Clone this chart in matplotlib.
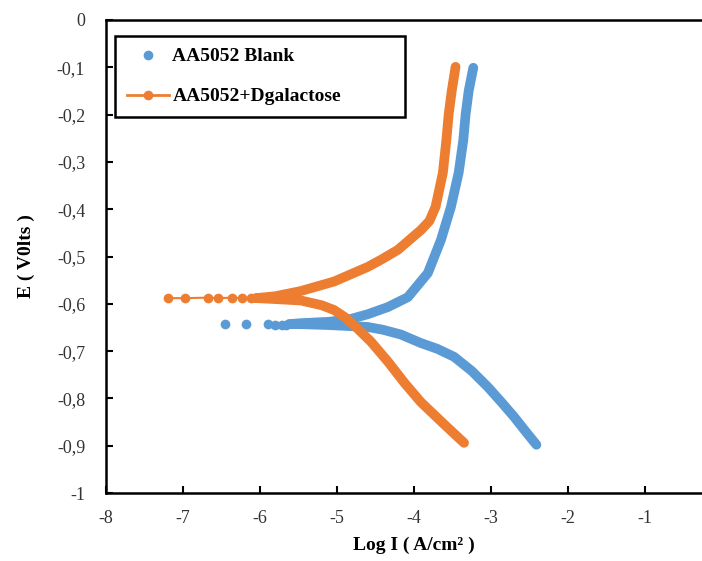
import matplotlib.pyplot as plt
from matplotlib.lines import Line2D
from matplotlib.ticker import FuncFormatter, MultipleLocator

# AA5052 blank
blank_cath_logi = [-2.41, -2.55, -2.70, -2.87, -3.04, -3.25, -3.48, -3.70, -3.91, -4.17, -4.40, -4.60,
                   -5.10, -5.47, -5.62]
blank_cath_e = [-0.898, -0.870, -0.839, -0.807, -0.776, -0.742, -0.712, -0.695, -0.683, -0.665, -0.655,
                -0.649, -0.645, -0.643, -0.643]
blank_anod_logi = [-5.62, -5.47, -5.10, -4.82, -4.60, -4.34, -4.08, -3.82, -3.65, -3.52, -3.42, -3.36,
                   -3.33, -3.29, -3.23]
blank_anod_e = [-0.643, -0.641, -0.638, -0.632, -0.622, -0.607, -0.586, -0.535, -0.465, -0.395, -0.323,
                -0.254, -0.200, -0.150, -0.101]
blank_dots_logi = [-6.46, -6.18, -5.90, -5.80, -5.72, -5.66]
blank_dots_e = [-0.643, -0.643, -0.643, -0.645, -0.645, -0.644]

# AA5052 + D-galactose
galac_cath_logi = [-3.35, -3.62, -3.91, -4.12, -4.34, -4.56, -4.78, -4.90, -5.04, -5.20, -5.47, -5.80, -6.05]
galac_cath_e = [-0.894, -0.853, -0.808, -0.768, -0.722, -0.680, -0.645, -0.628, -0.613, -0.603, -0.593,
                -0.590, -0.588]
galac_anod_logi = [-6.05, -5.80, -5.47, -5.04, -4.60, -4.43, -4.21, -3.91, -3.80, -3.72, -3.625, -3.58,
                   -3.55, -3.51, -3.46]
galac_anod_e = [-0.588, -0.584, -0.573, -0.553, -0.522, -0.507, -0.486, -0.444, -0.425, -0.395, -0.323,
                -0.254, -0.200, -0.150, -0.099]
galac_dots_logi = [-7.19, -6.98, -6.68, -6.55, -6.36, -6.23, -6.12]
galac_dots_e = [-0.588, -0.588, -0.587, -0.588, -0.587, -0.588, -0.588]

x_ticks = [-8, -7, -6, -5, -4, -3, -2, -1]

blue = '#5B9BD5'
orange = '#ED7D31'

plt.rcParams['font.family'] = 'Liberation Serif'

fig = plt.figure(figsize=(7.02, 5.61), dpi=100)
ax = fig.add_axes([106/702, 68/561, 616/702, 473/561])

band = dict(lw=7, solid_capstyle='round', solid_joinstyle='round')
ax.plot(blank_cath_logi, blank_cath_e, color=blue, **band)
ax.plot(blank_anod_logi, blank_anod_e, color=blue, **band)
ax.plot(blank_dots_logi, blank_dots_e, 'o', color=blue, ms=7, mec='none')

ax.plot(galac_dots_logi, galac_dots_e, '-o', color=orange, lw=1.5, ms=7, mec='none')
ax.plot(galac_cath_logi, galac_cath_e, color=orange, **band)
ax.plot(galac_anod_logi, galac_anod_e, color=orange, **band)

ax.set_xlim(-8, 0)
ax.set_ylim(-1, 0)
ax.set_xticks(x_ticks)
ax.yaxis.set_major_locator(MultipleLocator(0.1))
fmt = FuncFormatter(lambda v, p: ('%g' % round(v, 1)).replace('.', ','))
ax.xaxis.set_major_formatter(fmt)
ax.yaxis.set_major_formatter(fmt)

ax.tick_params(direction='in', length=5, width=1.5, labelsize=13, labelcolor='#333333')
ax.tick_params(axis='y', pad=15)
ax.tick_params(axis='x', pad=12)
for s in ax.spines.values():
    s.set_linewidth(1.8)

ax.set_xlabel('Log I ( A/cm² )', fontsize=14, fontweight='bold', labelpad=7)
ax.set_ylabel('E ( V0lts )', fontsize=14, fontweight='bold', labelpad=16)

handles = [Line2D([], [], ls='none', marker='o', color=blue, ms=7, mec='none'),
           Line2D([], [], ls='-', lw=2, marker='o', color=orange, ms=7, mec='none')]
leg = ax.legend(handles, ['AA5052 Blank', 'AA5052+Dgalactose'],
                loc='lower left', bbox_to_anchor=(9/616, 1 - 97/473, 290/616, 85/473),
                mode='expand', borderaxespad=0, fancybox=False, edgecolor='black',
                framealpha=1, handlelength=2.2, handletextpad=0.15, labelspacing=1.15,
                borderpad=0.6, prop={'weight': 'bold', 'size': 14})
leg.get_frame().set_linewidth(1.8)

fig.savefig('out.png', dpi=100)
